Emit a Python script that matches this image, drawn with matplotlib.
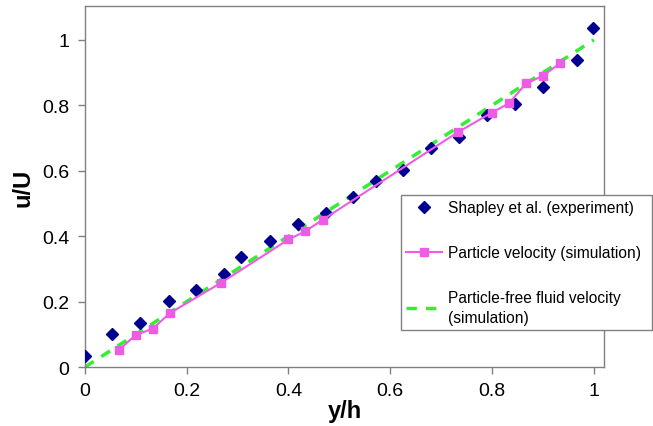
import matplotlib
matplotlib.use('Agg')
import matplotlib.pyplot as plt

plt.rcParams['font.family'] = ['Liberation Sans', 'DejaVu Sans']

# Shapley et al. experimental data
exp_x = [0, 0.054, 0.109, 0.165, 0.219, 0.274, 0.307, 0.363, 0.418, 0.473,
         0.527, 0.571, 0.625, 0.680, 0.735, 0.791, 0.846, 0.901, 0.966, 0.998]
exp_y = [0.035, 0.100, 0.135, 0.202, 0.235, 0.285, 0.335, 0.385, 0.437, 0.470,
         0.520, 0.570, 0.603, 0.670, 0.703, 0.770, 0.803, 0.857, 0.937, 1.037]

# particle velocity (simulation)
sim_x = [0.067, 0.1, 0.133, 0.167, 0.267, 0.4, 0.433, 0.467,
         0.733, 0.8, 0.833, 0.867, 0.9, 0.933]
sim_y = [0.053, 0.098, 0.117, 0.165, 0.257, 0.39, 0.415, 0.45,
         0.718, 0.778, 0.806, 0.867, 0.89, 0.928]

# particle-free fluid velocity (simulation)
fluid_x = [0, 1]
fluid_y = [0, 1]

fig = plt.figure(figsize=(6.53, 4.27), dpi=100)
ax = fig.add_axes([0.130, 0.138, 0.795, 0.846])

ax.plot(exp_x, exp_y, 'D', color='#00008F', markersize=6.3, linestyle='none',
        label='Shapley et al. (experiment)', zorder=3)
ax.plot(sim_x, sim_y, '-s', color='#EE5CE6', markersize=6, linewidth=1.5,
        label='Particle velocity (simulation)', zorder=4)
ax.plot(fluid_x, fluid_y, '--', color='#33EE33', linewidth=2.5, dashes=(3, 2.6),
        label='Particle-free fluid velocity\n(simulation)', zorder=2)

ax.set_xlim(0, 1.02)
ax.set_ylim(0, 1.104)
ax.set_xticks([0, 0.2, 0.4, 0.6, 0.8, 1])
ax.set_xticklabels(['0', '0.2', '0.4', '0.6', '0.8', '1'])
ax.set_yticks([0, 0.2, 0.4, 0.6, 0.8, 1])
ax.set_yticklabels(['0', '0.2', '0.4', '0.6', '0.8', '1'])
ax.tick_params(direction='out', length=5, width=1, color='#808080',
               labelsize=14, pad=6)
for s in ax.spines.values():
    s.set_color('#808080')
    s.set_linewidth(1)

ax.set_xlabel('y/h', fontsize=17, fontweight='bold', labelpad=0)
ax.set_ylabel('u/U', fontsize=17, fontweight='bold', labelpad=6)

leg = fig.legend(loc='upper left', bbox_to_anchor=(0.614, 0.237, 0.385, 0.304),
                 mode='expand', fontsize=11.2, labelspacing=1.9,
                 handlelength=2.3, handletextpad=0.35, borderpad=0.35,
                 borderaxespad=0, fancybox=False, framealpha=1,
                 edgecolor='#808080')
leg.get_frame().set_linewidth(1)
leg.get_texts()[2].set_linespacing(1.45)

plt.savefig('out.png', dpi=100)
